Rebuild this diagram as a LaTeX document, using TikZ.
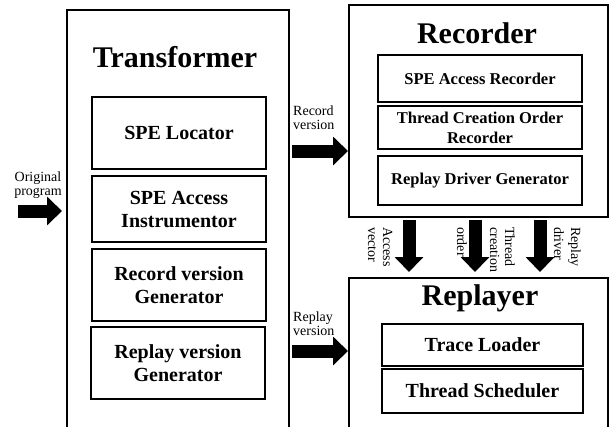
\documentclass[tikz,border=0pt]{standalone}
\usepackage{fontspec}
\setmainfont{Liberation Serif}
\usetikzlibrary{arrows.meta}
\begin{document}
\begin{tikzpicture}[x=1pt,y=-1pt,
  frame/.style={draw=black, line width=1.6pt},
  outerbox/.style={frame, anchor=north west, inner sep=0pt},
  part/.style={frame, inner sep=0pt, align=center,
    font=\fontsize{20}{23}\selectfont\bfseries},
  rpart/.style={part, font=\fontsize{16.5}{20}\selectfont\bfseries},
  title/.style={inner sep=0pt, anchor=base,
    font=\fontsize{30}{34}\selectfont\bfseries},
  lbl/.style={inner sep=0pt, font=\fontsize{14}{15}\selectfont},
  vlbl/.style={lbl, rotate=-90, anchor=base west},
  blockarrow/.style={line width=13pt,
    -{Triangle[length=15pt 0 0, width=28pt 0 0]}}]
\useasboundingbox (0,0) rectangle (610,426);
\clip (0,0) rectangle (610,426);

% main blocks
\node[outerbox, minimum width=222pt, minimum height=460pt] (transformer) at (66,9) {};
\node[outerbox, minimum width=259pt, minimum height=212pt] (recorder) at (348,4) {};
\node[outerbox, minimum width=259pt, minimum height=200pt] (replayer) at (348,277) {};

\node[title] (ttitle) at (175,67) {Transformer};
\node[title] (rtitle) at (477,43) {Recorder};
\node[title] (ptitle) at (480,305) {Replayer};

% transformer parts
\node[part, minimum width=174pt, minimum height=72pt] (locator) at (179,133) {SPE Locator};
\node[part, minimum width=174pt, minimum height=66pt] (instr) at (179,209) {SPE Access\\Instrumentor};
\node[part, minimum width=174pt, minimum height=72pt] (recgen) at (179,285) {Record version\\Generator};
\node[part, minimum width=174pt, minimum height=72pt] (repgen) at (178,363) {Replay version\\Generator};

% recorder parts
\node[rpart, minimum width=204pt, minimum height=47pt] (sperec) at (480,78.5) {SPE Access Recorder};
\node[rpart, minimum width=204pt, minimum height=43pt] (tcorec) at (480,127.5) {Thread Creation Order\\Recorder};
\node[rpart, minimum width=204pt, minimum height=49pt] (drvgen) at (480,180.5) {Replay Driver Generator};

% replayer parts
\node[part, minimum width=201pt, minimum height=42pt] (loader) at (482.5,345) {Trace Loader};
\node[part, minimum width=201pt, minimum height=44pt] (sched) at (482.5,391) {Thread Scheduler};

% arrow end points
\coordinate (in-tail) at (18,211);   \coordinate (in-tip) at (62,211);
\coordinate (rv-tail) at (292,151);  \coordinate (rv-tip) at (348,151);
\coordinate (pv-tail) at (292,351);  \coordinate (pv-tip) at (348,351);
\coordinate (av-tail) at (409,220);  \coordinate (av-tip) at (409,272);
\coordinate (to-tail) at (475,220);  \coordinate (to-tip) at (475,272);
\coordinate (rd-tail) at (540,220);  \coordinate (rd-tip) at (540,272);

\draw[blockarrow] (in-tail) -- (in-tip);
\draw[blockarrow] (rv-tail) -- (rv-tip);
\draw[blockarrow] (pv-tail) -- (pv-tip);
\draw[blockarrow] (av-tail) -- (av-tip);
\draw[blockarrow] (to-tail) -- (to-tip);
\draw[blockarrow] (rd-tail) -- (rd-tip);

% arrow labels
\node[lbl, anchor=base] (l-orig1) at (38,181) {Original};
\node[lbl, anchor=base] (l-orig2) at (38,195) {program};
\node[lbl, anchor=base west] (l-rv1) at (293,115) {Record};
\node[lbl, anchor=base west] (l-rv2) at (293,129) {version};
\node[lbl, anchor=base west] (l-pv1) at (293,321) {Replay};
\node[lbl, anchor=base west] (l-pv2) at (293,335) {version};

\node[vlbl] (l-av1) at (383,227) {Access};
\node[vlbl] (l-av2) at (368,227) {vector};
\node[vlbl] (l-to1) at (505,227) {Thread};
\node[vlbl] (l-to2) at (490,227) {creation};
\node[vlbl] (l-to3) at (457,227) {order};
\node[vlbl] (l-rd1) at (571,227) {Replay};
\node[vlbl] (l-rd2) at (554,227) {driver};
\end{tikzpicture}
\end{document}
